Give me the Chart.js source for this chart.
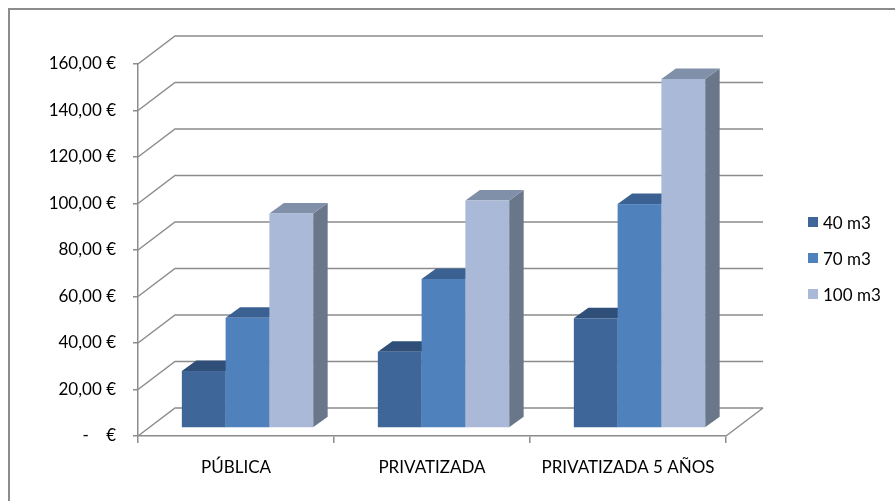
<!DOCTYPE html>
<html>
<head>
<meta charset="utf-8">
<script src="https://cdn.jsdelivr.net/npm/chart.js@4/dist/chart.umd.min.js"></script>
<style>
  html, body { margin: 0; padding: 0; background: #fff; overflow: hidden; width: 895px; height: 501px; }
  #frame { position: absolute; left: 8px; top: 8px; width: 920px; height: 520px; border: 2px solid #8c8c8c; box-sizing: border-box; }
  #c { position: absolute; left: 0; top: 0; }
  #legend { position: absolute; left: 808px; top: 204px; font-family: 'Lato', sans-serif; font-size: 17px; color: #000; }
  .li { height: 36px; display: flex; align-items: center; }
  .sw { width: 10px; height: 10px; margin-right: 5px; }
</style>
</head>
<body>
<div id="frame"></div>
<canvas id="c" width="895" height="501"></canvas>
<div id="legend"></div>
<script>
const categories = ['PÚBLICA', 'PRIVATIZADA', 'PRIVATIZADA 5 AÑOS'];
const seriesNames = ['40 m3', '70 m3', '100 m3'];
const values40 = [24.5, 32.8, 47.2];
const values70 = [47.4, 64.1, 96.3];
const values100 = [92.3, 97.8, 150.1];
const yTickLabels = ['-    €', '20,00 €', '40,00 €', '60,00 €', '80,00 €', '100,00 €', '120,00 €', '140,00 €', '160,00 €'];

const frontColors = ['#3F6699', '#4F81BD', '#AAB9D8'];
const topColors = ['#2F4F79', '#3B6192', '#8190A9'];
const sideColors = ['#35567F', '#3F6597', '#6A7689'];

const WALL_DX = 37, WALL_DY = -28;     // depth of the 3D floor / walls
const BAR_OFF_X = 11.5, BAR_OFF_Y = -8; // bars sit in the middle of the depth
const BAR_DX = 14.5, BAR_DY = -10.5;    // depth of each bar
const GRID = '#8c8c8c';

const threeD = {
  id: 'threeD',
  beforeDatasetsDraw(chart) {
    const ctx = chart.ctx;
    const ys = chart.scales.y;
    const L = chart.chartArea.left, R = chart.chartArea.right;
    ctx.save();
    ctx.strokeStyle = GRID;
    ctx.lineWidth = 1.5;
    ys.ticks.forEach(t => {
      const y = ys.getPixelForValue(t.value);
      ctx.beginPath();
      ctx.moveTo(L, y);
      ctx.lineTo(L + WALL_DX, y + WALL_DY);
      ctx.lineTo(R + WALL_DX, y + WALL_DY);
      ctx.stroke();
    });
    const y0 = ys.getPixelForValue(0);
    ctx.beginPath();
    ctx.moveTo(R, y0);
    ctx.lineTo(R + WALL_DX, y0 + WALL_DY);
    ctx.stroke();

    chart.data.datasets.forEach((ds, di) => {
      const meta = chart.getDatasetMeta(di);
      meta.data.forEach(el => {
        const x1 = el.x - el.width / 2 + BAR_OFF_X;
        const x2 = el.x + el.width / 2 + BAR_OFF_X;
        const yt = el.y + BAR_OFF_Y;
        const yb = el.base + BAR_OFF_Y;
        ctx.fillStyle = sideColors[di];
        ctx.beginPath();
        ctx.moveTo(x2, yt); ctx.lineTo(x2 + BAR_DX, yt + BAR_DY);
        ctx.lineTo(x2 + BAR_DX, yb + BAR_DY); ctx.lineTo(x2, yb);
        ctx.closePath(); ctx.fill();
        ctx.fillStyle = topColors[di];
        ctx.beginPath();
        ctx.moveTo(x1, yt); ctx.lineTo(x1 + BAR_DX, yt + BAR_DY);
        ctx.lineTo(x2 + BAR_DX, yt + BAR_DY); ctx.lineTo(x2, yt);
        ctx.closePath(); ctx.fill();
        ctx.fillStyle = frontColors[di];
        ctx.fillRect(x1, yt, x2 - x1, yb - yt);
      });
    });
    ctx.restore();
    return false;
  }
};

const chart = new Chart(document.getElementById('c'), {
  type: 'bar',
  data: {
    labels: categories,
    datasets: [
      { label: seriesNames[0], data: values40, backgroundColor: frontColors[0] },
      { label: seriesNames[1], data: values70, backgroundColor: frontColors[1] },
      { label: seriesNames[2], data: values100, backgroundColor: frontColors[2] }
    ]
  },
  options: {
    responsive: false,
    animation: false,
    devicePixelRatio: 1,
    layout: { padding: { left: 0, top: 64, right: 169, bottom: 20 } },
    categoryPercentage: 0.67,
    barPercentage: 1.0,
    plugins: { legend: { display: false }, tooltip: { enabled: false } },
    scales: {
      x: {
        offset: true,
        grid: { offset: true, drawOnChartArea: false, drawTicks: true, tickLength: 7, color: GRID, lineWidth: 1.5 },
        border: { display: true, color: GRID, width: 1.5 },
        ticks: { color: '#000', font: { family: 'Lato', size: 17 }, padding: 14, maxRotation: 0, autoSkip: false },
        afterFit(s) { s.height = 45; }
      },
      y: {
        min: 0, max: 160,
        grid: { drawOnChartArea: false, drawTicks: true, tickLength: 5, color: GRID, lineWidth: 1.5 },
        border: { display: true, color: GRID, width: 1.5 },
        ticks: { stepSize: 20, color: '#000', font: { family: 'Lato', size: 17 }, padding: 17,
                 callback: (v, i) => yTickLabels[i] },
        afterFit(s) { s.width = 138; }
      }
    }
  },
  plugins: [threeD]
});

const lg = document.getElementById('legend');
chart.data.datasets.forEach(ds => {
  const row = document.createElement('div');
  row.className = 'li';
  const sw = document.createElement('span');
  sw.className = 'sw';
  sw.style.background = ds.backgroundColor;
  const tx = document.createElement('span');
  tx.textContent = ds.label;
  row.appendChild(sw); row.appendChild(tx);
  lg.appendChild(row);
});
</script>
</body>
</html>
